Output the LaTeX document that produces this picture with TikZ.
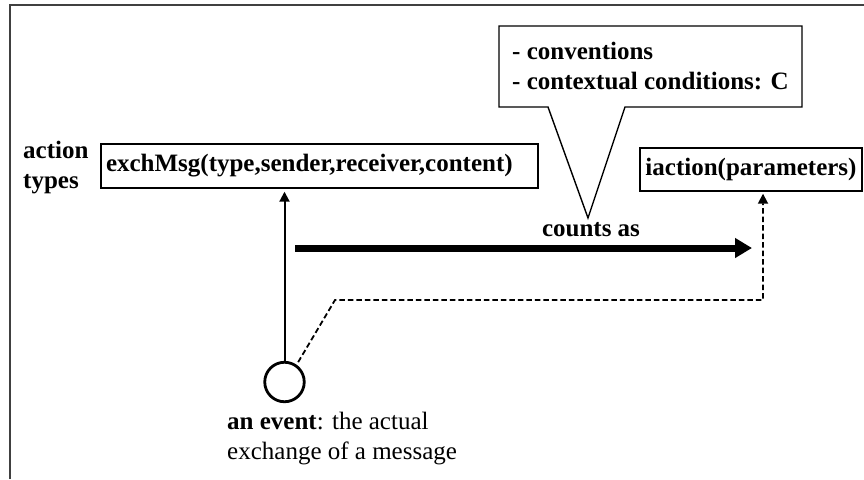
\documentclass[tikz,border=0pt]{standalone}
\usepackage{fontspec}
\setmainfont{Liberation Serif}
\usetikzlibrary{arrows.meta,calc}
\begin{document}
\begin{tikzpicture}[x=1pt,y=-1pt,
  every node/.style={font=\fontsize{25}{30}\selectfont},
  box/.style={draw, line width=1.4pt, inner ysep=0pt},
  label/.style={inner sep=0pt, align=left},
  thinarrow/.style={line width=2pt, -{Triangle[length=10pt,width=10pt]}},
  dasharrow/.style={line width=1.8pt, dash pattern=on 5.5pt off 3pt, -{Triangle[length=10pt,width=10pt]}},
  thickarrow/.style={line width=7pt, -{Triangle[length=17pt,width=19pt]}},
  eventnode/.style={circle, draw, line width=2.8pt, minimum size=39.5pt, inner sep=0pt}
]
\useasboundingbox (0,0) rectangle (864,479);
% frame (top and left only)
\draw[line width=1.5pt, black!75] (10,479) -- (10,5) -- (864,5);

% callout
\coordinate (coNW) at (499,26);
\coordinate (coSE) at (802,107);
\coordinate (tip) at (588,218);
\draw[line width=1.4pt, line join=miter] (coNW) -- (coNW -| coSE) -- (coSE)
  -- (625,107) -- (tip) -- (548,107) -- (coNW |- coSE) -- cycle;
\node[label, anchor=base west] (co) at (512,89)
  {\textbf{- conventions}\\\textbf{- contextual conditions: C}};

% action types
\node[label, anchor=base west] (at) at (23,188) {\textbf{action}\\\textbf{types}};

% boxes
\node[box, inner xsep=5pt, text width=427pt, align=left, minimum height=44pt] (ex) at (319.5,166)
  {\textbf{exchMsg(type,sender,receiver,content)}};
\node[box, minimum width=222pt, minimum height=43pt] (ia) at (751,169.5)
  {\textbf{iaction(parameters)}};

% event
\node[eventnode] (ev) at (284.5,382) {};
\node[label, anchor=base west] (evtxt) at (227,459) {\textbf{an event}: the actual\\exchange of a message};

% counts as
\coordinate (ca1) at (295,248);
\coordinate (ca2) at (752,248);
\draw[thickarrow] (ca1) -- (ca2);
\node[inner sep=0pt, anchor=base] (cnt) at (591,236) {\textbf{counts as}};

% connectors
\draw[thinarrow, shorten >=3pt] (ev.north) -- (ev.north |- ex.south);
\coordinate (bend) at (335,300);
\coordinate (corner) at (763,300);
\draw[dasharrow, shorten <=3pt, shorten >=2pt] (ev.55) -- (bend) -- (corner) -- (corner |- ia.south);
\end{tikzpicture}
\end{document}
